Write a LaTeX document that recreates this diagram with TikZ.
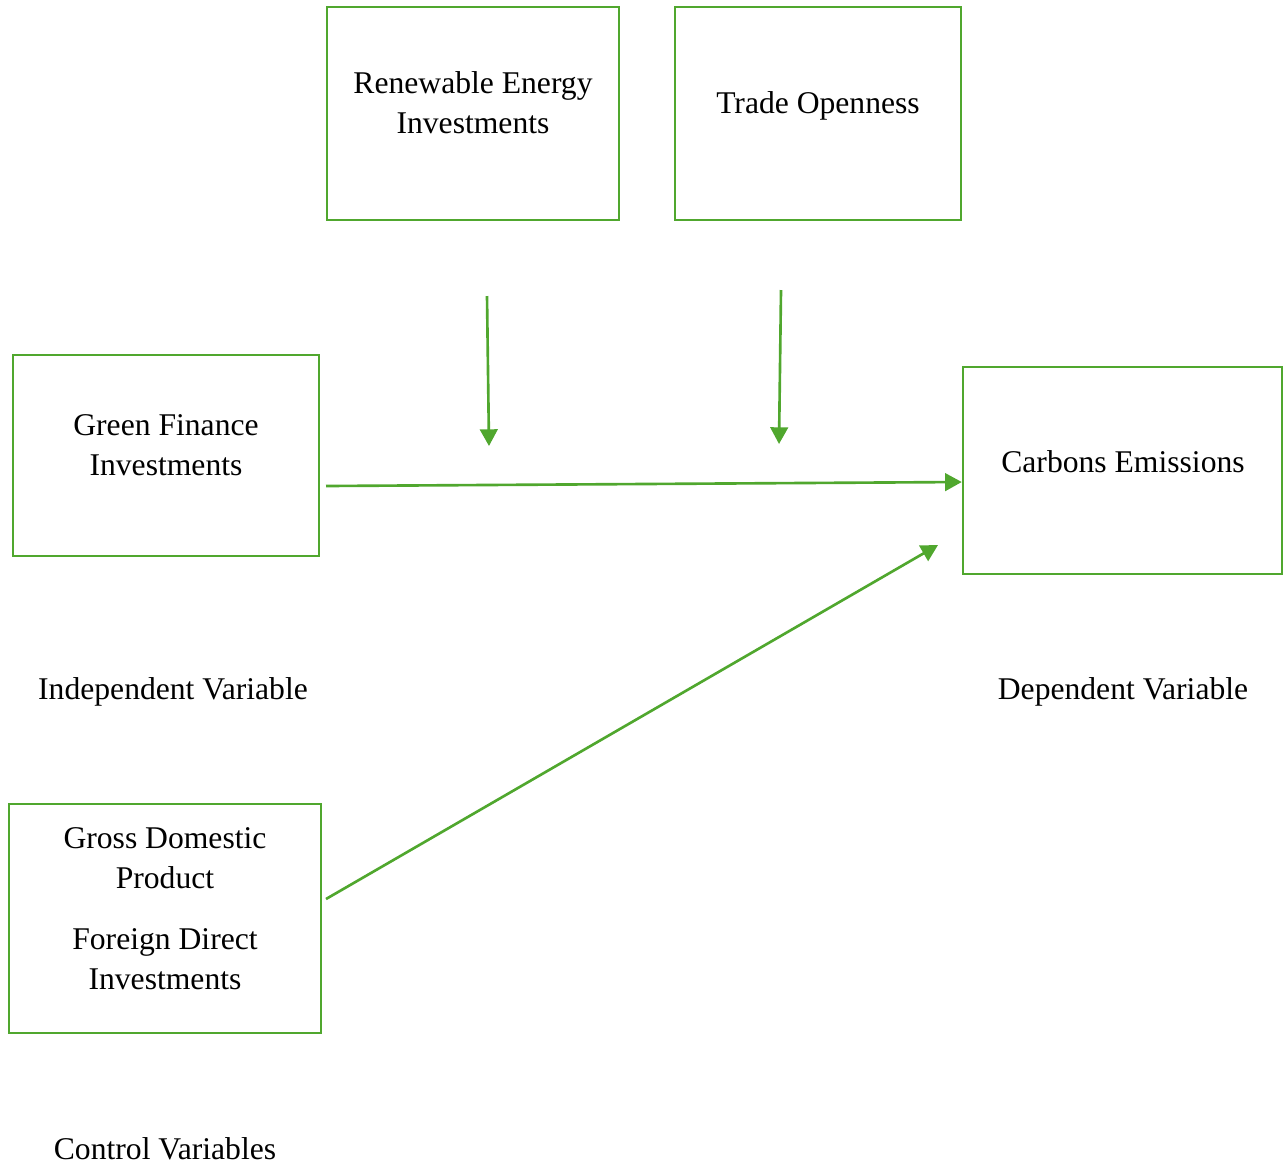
\documentclass[tikz,border=0pt]{standalone}
\usepackage{fontspec}
\setmainfont{Liberation Serif}
\usetikzlibrary{arrows.meta}
\definecolor{boxgreen}{RGB}{80,167,46}
\begin{document}
\begin{tikzpicture}[x=0.02cm, y=-0.02cm,
  box/.style={draw=boxgreen, line width=1.4pt, rectangle, inner sep=0pt},
  txt/.style={align=center, font=\fontsize{18}{22.8}\selectfont, inner sep=0pt},
  link/.style={draw=boxgreen, line width=1.5pt, -{Triangle[length=9.5pt,width=10pt]}}]
\def\u{0.02cm}
\useasboundingbox (0,0) rectangle (1283,1164);
% Kaesten
\node[box, minimum width=292*\u, minimum height=213*\u] (ren)   at (473,113.5) {};
\node[box, minimum width=286*\u, minimum height=213*\u] (trade) at (818,113.5) {};
\node[box, minimum width=306*\u, minimum height=201*\u] (gfi)   at (166,455.5) {};
\node[box, minimum width=319*\u, minimum height=207*\u] (co2)   at (1122.5,470.5) {};
\node[box, minimum width=312*\u, minimum height=229*\u] (ctrl)  at (165,918.5) {};
% Texte
\node[txt] (rentxt)   at (473,103)   {Renewable Energy\\Investments};
\node[txt] (tradetxt) at (818,106)   {Trade Openness};
\node[txt] (gfitxt)   at (166,445)   {Green Finance\\Investments};
\node[txt] (co2txt)   at (1123,462)  {Carbons Emissions};
\node[txt] (ctrltxt)  at (165,908.5) {Gross Domestic\\Product\\[12pt]Foreign Direct\\Investments};
% Beschriftungen
\node[txt] (indep) at (173,692)  {Independent Variable};
\node[txt] (dep)   at (1123,692) {Dependent Variable};
\node[txt] (cv)    at (165,1149) {Control Variables};
% Pfeile
\coordinate (renS)   at (487,296);
\coordinate (renE)   at (489,446);
\coordinate (tradeS) at (781,290);
\coordinate (tradeE) at (779,444);
\coordinate (gfiS)   at (326,486);
\coordinate (ctrlS)  at (326,899);
\coordinate (ctrlE)  at (938,545);
\draw[link] (renS) -- (renE);
\draw[link] (tradeS) -- (tradeE);
\draw[link] (gfiS) -- (co2.west |- 0,482);
\draw[link] (ctrlS) -- (ctrlE);
\end{tikzpicture}
\end{document}
